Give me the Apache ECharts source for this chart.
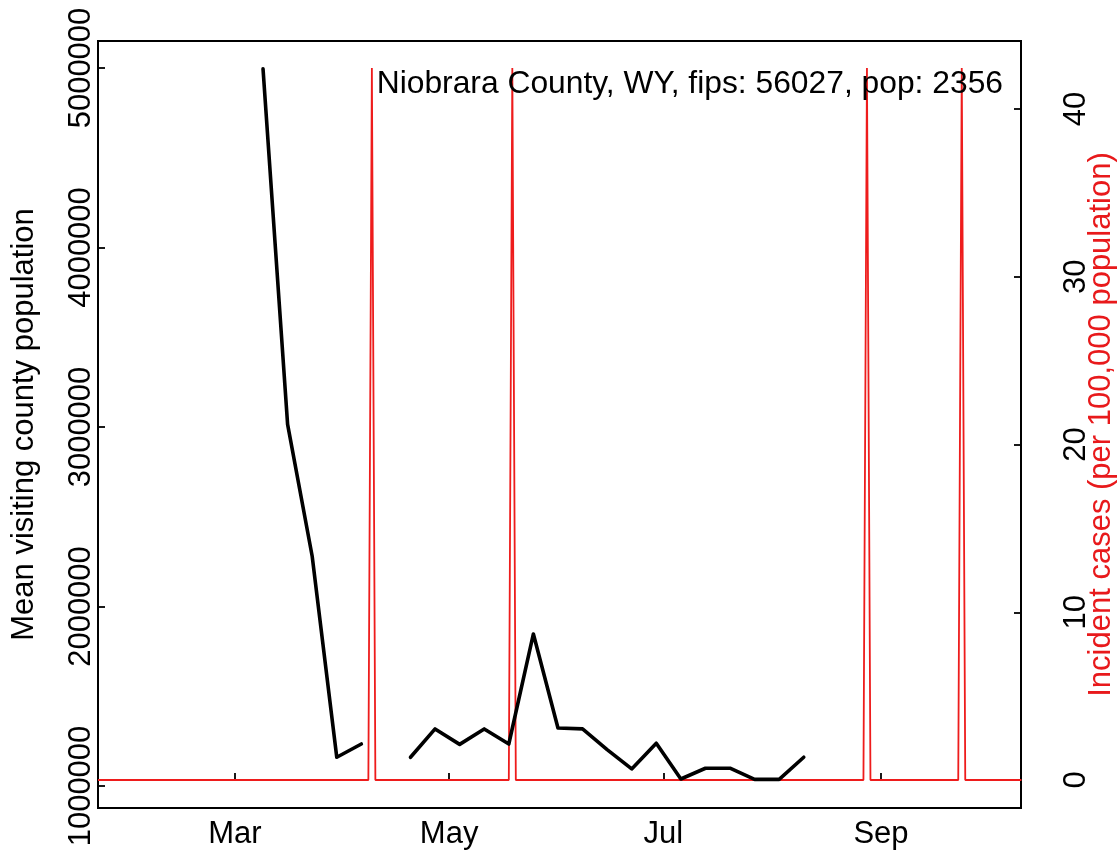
<!DOCTYPE html>
<html>
<head>
<meta charset="utf-8">
<script src="https://cdn.jsdelivr.net/npm/echarts@6/dist/echarts.min.js"></script>
<style>
html,body{margin:0;padding:0;background:#fff;}
#chart{width:1119px;height:854px;}
</style>
</head>
<body>
<div id="chart"></div>
<script>
// ---- data ----
const titleText = 'Niobrara County, WY, fips: 56027, pop: 2356';
const leftAxisTitle = 'Mean visiting county population';
const rightAxisTitle = 'Incident cases (per 100,000 population)';

const visitDates = ['2020-03-09','2020-03-16','2020-03-23','2020-03-30','2020-04-06','2020-04-13',
  '2020-04-20','2020-04-27','2020-05-04','2020-05-11','2020-05-18','2020-05-25','2020-06-01',
  '2020-06-08','2020-06-15','2020-06-22','2020-06-29','2020-07-06','2020-07-13','2020-07-20',
  '2020-07-27','2020-08-03','2020-08-10'];
const visitValues = [4995000, 3015000, 2280000, 1160000, 1234000, null,
  1160000, 1318000, 1232000, 1318000, 1234000, 1847000, 1323000,
  1318000, 1203000, 1095000, 1238000, 1039000, 1099000, 1099000,
  1037000, 1037000, 1160000];

const caseDates = ['2020-01-22','2020-04-08','2020-04-09','2020-04-10','2020-05-18','2020-05-19',
  '2020-05-20','2020-08-27','2020-08-28','2020-08-29','2020-09-23','2020-09-24','2020-09-25','2020-10-11'];
const caseValues = [0, 0, 42.44, 0, 0, 42.44, 0, 0, 42.44, 0, 0, 42.44, 0, 0];

const monthTicks = ['2020-03-01','2020-05-01','2020-07-01','2020-09-01'];
const monthLabels = ['Mar','May','Jul','Sep'];
const leftTicks = [1000000, 2000000, 3000000, 4000000, 5000000];
const rightTicks = [0, 10, 20, 30, 40];

// ---- build ----
const toTs = d => Date.parse(d + 'T00:00:00Z');
const FONT = 'Liberation Sans, Arial, Helvetica, sans-serif';
const FS = 31;

const chart = echarts.init(document.getElementById('chart'), null, {renderer:'canvas'});
const monthTs = monthTicks.map(toTs);

const option = {
  animation: false,
  backgroundColor: '#fff',
  textStyle: {fontFamily: FONT},
  title: {
    text: titleText,
    right: 116, top: 68, padding: 0,
    textStyle: {fontSize: 31.8, fontWeight: 'normal', color: '#000', fontFamily: FONT}
  },
  grid: {left: 98, right: 98, top: 41, bottom: 46, show: true, borderColor: '#000', borderWidth: 2, backgroundColor: 'transparent'},
  xAxis: {
    type: 'value',
    min: Date.UTC(2020,0,22),
    max: Date.UTC(2020,9,10,21),
    splitLine: {show:false},
    axisLine: {show:false},
    axisTick: {show:true, inside:true, length:7, customValues: monthTs, lineStyle:{color:'#000', width:1.8}},
    axisLabel: {
      customValues: monthTs,
      margin: 11,
      fontSize: FS, color: '#000', fontFamily: FONT,
      formatter: v => { const i = monthTs.indexOf(v); return i >= 0 ? monthLabels[i] : ''; }
    }
  },
  yAxis: [{
    type: 'value',
    position: 'left',
    min: 877437, max: 5150418,
    splitLine: {show:false},
    axisLine: {show:false},
    axisTick: {show:true, inside:true, length:7, customValues: leftTicks, lineStyle:{color:'#000', width:1.8}},
    axisLabel: {customValues: leftTicks, rotate: 90, margin: 1, fontSize: FS, color:'#000', fontFamily: FONT,
      formatter: v => String(Math.round(v))}
  },{
    type: 'value',
    position: 'right',
    min: -1.669, max: 44.054,
    splitLine: {show:false},
    axisLine: {show:false},
    axisTick: {show:true, inside:true, length:7, customValues: rightTicks, lineStyle:{color:'#000', width:1.8}},
    axisLabel: {customValues: rightTicks, rotate: 90, margin: 40, fontSize: FS, color:'#000', fontFamily: FONT,
      formatter: v => String(Math.round(v))}
  }],
  graphic: [
    {type:'text', x: 24, y: 424.5, rotation: Math.PI/2,
      style:{text: leftAxisTitle, fontSize: FS, fontFamily: FONT, fill:'#000', align:'center', verticalAlign:'middle'}},
    {type:'text', x: 1101, y: 424.5, rotation: Math.PI/2,
      style:{text: rightAxisTitle, fontSize: FS, fontFamily: FONT, fill:'#e8191b', align:'center', verticalAlign:'middle'}}
  ],
  series: [{
    type: 'line',
    yAxisIndex: 1,
    data: caseDates.map((d,i) => [toTs(d), caseValues[i]]),
    showSymbol: false,
    lineStyle: {color:'#ee1c1c', width: 1.8},
    z: 2
  },{
    type: 'line',
    yAxisIndex: 0,
    data: visitDates.map((d,i) => [toTs(d), visitValues[i]]),
    connectNulls: false,
    showSymbol: false,
    lineStyle: {color:'#000', width: 3.6, cap:'round', join:'round'},
    z: 3
  }]
};
chart.setOption(option);
</script>
</body>
</html>
